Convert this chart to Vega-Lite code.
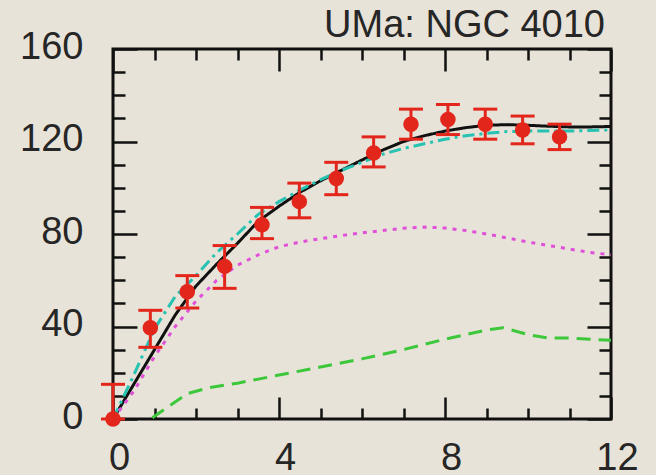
{
  "$schema": "https://vega.github.io/schema/vega-lite/v6.json",
  "width": 498,
  "height": 370,
  "autosize": {"type": "none"},
  "padding": {"left": 113, "top": 49, "right": 45, "bottom": 56},
  "background": "#e8e3d8",
  "title": {"text": "UMa: NGC 4010", "anchor": "end", "frame": "group", "offset": 4, "dx": -6, "dy": 21, "fontSize": 38, "font": "Liberation Sans", "fontWeight": "normal", "color": "#262626"},
  "config": {
    "view": {"stroke": "#111111", "strokeWidth": 3},
    "axis": {"domain": false, "grid": false, "tickColor": "#111111", "tickWidth": 2.5, "labelFont": "Liberation Sans", "labelFontSize": 38, "labelColor": "#262626", "title": null}
  },
  "datasets": {
    "models": [
      {"series": "total", "r": 0, "v": 0}, {"series": "total", "r": 0.5, "v": 15}, {"series": "total", "r": 1, "v": 30}, {"series": "total", "r": 1.5, "v": 45}, {"series": "total", "r": 2, "v": 57.5}, {"series": "total", "r": 2.5, "v": 67}, {"series": "total", "r": 3, "v": 76}, {"series": "total", "r": 3.5, "v": 85.5}, {"series": "total", "r": 4, "v": 92}, {"series": "total", "r": 4.5, "v": 98}, {"series": "total", "r": 5, "v": 103}, {"series": "total", "r": 5.5, "v": 107.5}, {"series": "total", "r": 6, "v": 112}, {"series": "total", "r": 6.5, "v": 116.3}, {"series": "total", "r": 7, "v": 120}, {"series": "total", "r": 7.5, "v": 122.5}, {"series": "total", "r": 8, "v": 124.5}, {"series": "total", "r": 8.5, "v": 126}, {"series": "total", "r": 9, "v": 127}, {"series": "total", "r": 9.5, "v": 127.3}, {"series": "total", "r": 10, "v": 127}, {"series": "total", "r": 10.5, "v": 126.6}, {"series": "total", "r": 11, "v": 126.3}, {"series": "total", "r": 11.5, "v": 126.3}, {"series": "total", "r": 12, "v": 126.5},
      {"series": "alt", "r": 0, "v": 0}, {"series": "alt", "r": 0.5, "v": 19}, {"series": "alt", "r": 1, "v": 39}, {"series": "alt", "r": 1.5, "v": 53}, {"series": "alt", "r": 2, "v": 62}, {"series": "alt", "r": 2.5, "v": 72}, {"series": "alt", "r": 3, "v": 80}, {"series": "alt", "r": 3.5, "v": 88.5}, {"series": "alt", "r": 4, "v": 94}, {"series": "alt", "r": 4.5, "v": 99}, {"series": "alt", "r": 5, "v": 103.5}, {"series": "alt", "r": 5.5, "v": 107.5}, {"series": "alt", "r": 6, "v": 111}, {"series": "alt", "r": 6.5, "v": 114.5}, {"series": "alt", "r": 7, "v": 117}, {"series": "alt", "r": 7.5, "v": 119}, {"series": "alt", "r": 8, "v": 121}, {"series": "alt", "r": 8.5, "v": 122.5}, {"series": "alt", "r": 9, "v": 123.5}, {"series": "alt", "r": 9.5, "v": 124.3}, {"series": "alt", "r": 10, "v": 124.5}, {"series": "alt", "r": 11, "v": 124.5}, {"series": "alt", "r": 12, "v": 125},
      {"series": "stars", "r": 0, "v": 0}, {"series": "stars", "r": 0.5, "v": 12}, {"series": "stars", "r": 1, "v": 27}, {"series": "stars", "r": 1.5, "v": 40}, {"series": "stars", "r": 2, "v": 51}, {"series": "stars", "r": 2.5, "v": 60}, {"series": "stars", "r": 3, "v": 66.5}, {"series": "stars", "r": 3.5, "v": 71}, {"series": "stars", "r": 4, "v": 74.5}, {"series": "stars", "r": 4.5, "v": 76.5}, {"series": "stars", "r": 5, "v": 78}, {"series": "stars", "r": 5.5, "v": 79.3}, {"series": "stars", "r": 6, "v": 80.5}, {"series": "stars", "r": 6.5, "v": 81.5}, {"series": "stars", "r": 7, "v": 82.5}, {"series": "stars", "r": 7.5, "v": 83}, {"series": "stars", "r": 8, "v": 82.6}, {"series": "stars", "r": 8.5, "v": 81.5}, {"series": "stars", "r": 9, "v": 80}, {"series": "stars", "r": 9.5, "v": 78.3}, {"series": "stars", "r": 10, "v": 76.5}, {"series": "stars", "r": 10.5, "v": 75}, {"series": "stars", "r": 11, "v": 73.5}, {"series": "stars", "r": 11.5, "v": 72}, {"series": "stars", "r": 12, "v": 71},
      {"series": "gas", "r": 0.95, "v": 0.5}, {"series": "gas", "r": 1.3, "v": 5}, {"series": "gas", "r": 1.8, "v": 11}, {"series": "gas", "r": 2.3, "v": 13.5}, {"series": "gas", "r": 3, "v": 15.5}, {"series": "gas", "r": 4, "v": 19}, {"series": "gas", "r": 5, "v": 22.5}, {"series": "gas", "r": 6, "v": 26}, {"series": "gas", "r": 7, "v": 30}, {"series": "gas", "r": 8, "v": 34.5}, {"series": "gas", "r": 9, "v": 38.5}, {"series": "gas", "r": 9.4, "v": 39.5}, {"series": "gas", "r": 10, "v": 36.5}, {"series": "gas", "r": 10.5, "v": 35}, {"series": "gas", "r": 11, "v": 35}, {"series": "gas", "r": 12, "v": 34}
    ],
    "obs": [
      {"r": 0, "v": 0, "lo": 0, "hi": 15},
      {"r": 0.9, "v": 39.5, "lo": 31, "hi": 47},
      {"r": 1.79, "v": 55, "lo": 48, "hi": 62},
      {"r": 2.69, "v": 66, "lo": 56.5, "hi": 75},
      {"r": 3.59, "v": 84, "lo": 78, "hi": 91.5},
      {"r": 4.49, "v": 94, "lo": 87, "hi": 102},
      {"r": 5.38, "v": 104, "lo": 97, "hi": 111},
      {"r": 6.28, "v": 115, "lo": 109, "hi": 122},
      {"r": 7.18, "v": 127.5, "lo": 121, "hi": 134},
      {"r": 8.07, "v": 129.5, "lo": 123, "hi": 136},
      {"r": 8.97, "v": 127.5, "lo": 121, "hi": 134},
      {"r": 9.87, "v": 125, "lo": 119, "hi": 131},
      {"r": 10.76, "v": 122, "lo": 116.5, "hi": 127.5}
    ]
  },
  "resolve": {"axis": {"x": "independent", "y": "independent"}},
  "layer": [
    {
      "data": {"name": "models"},
      "mark": {"type": "line", "strokeWidth": 3, "clip": true},
      "encoding": {
        "x": {"field": "r", "type": "quantitative", "scale": {"domain": [0, 12], "nice": false},
          "axis": {"orient": "bottom", "values": [0,1,2,3,4,5,6,7,8,9,10,11,12], "labelExpr": "datum.value % 4 === 0 ? datum.label : ''",
            "tickSize": {"condition": {"test": "datum.value % 4 === 0", "value": -22}, "value": -11}, "labelPadding": 42, "labelOffset": 6, "labelFlush": false, "labelOverlap": false}},
        "y": {"field": "v", "type": "quantitative", "scale": {"domain": [0, 160], "nice": false},
          "axis": {"orient": "left", "values": [0,10,20,30,40,50,60,70,80,90,100,110,120,130,140,150,160], "labelExpr": "datum.value % 40 === 0 ? datum.label : ''",
            "tickSize": {"condition": {"test": "datum.value % 40 === 0", "value": -24}, "value": -12}, "labelPadding": 54, "labelOffset": -2, "labelFlush": false, "labelOverlap": false}},
        "color": {"field": "series", "type": "nominal", "scale": {"domain": ["total", "alt", "stars", "gas"], "range": ["#111111", "#26c2b2", "#e050d8", "#3cc83a"]}, "legend": null},
        "strokeDash": {"field": "series", "type": "nominal", "scale": {"domain": ["total", "alt", "stars", "gas"], "range": [[1, 0], [12, 5, 3, 5], [4, 6], [14, 8]]}, "legend": null},
        "order": {"field": "r", "type": "quantitative"}
      }
    },
    {
      "data": {"name": "obs"},
      "mark": {"type": "rule", "color": "#e3261c", "strokeWidth": 3},
      "encoding": {
        "x": {"field": "r", "type": "quantitative",
          "axis": {"orient": "top", "values": [0,1,2,3,4,5,6,7,8,9,10,11,12], "labels": false,
            "tickSize": {"condition": {"test": "datum.value % 4 === 0", "value": -22}, "value": -11}}},
        "y": {"field": "lo", "type": "quantitative",
          "axis": {"orient": "right", "values": [0,10,20,30,40,50,60,70,80,90,100,110,120,130,140,150,160], "labels": false,
            "tickSize": {"condition": {"test": "datum.value % 40 === 0", "value": -24}, "value": -12}}},
        "y2": {"field": "hi"}
      }
    },
    {
      "data": {"name": "obs"},
      "mark": {"type": "tick", "orient": "horizontal", "color": "#e3261c", "opacity": 1, "size": 24, "thickness": 3},
      "encoding": {
        "x": {"field": "r", "type": "quantitative", "axis": null},
        "y": {"field": "lo", "type": "quantitative", "axis": null}
      }
    },
    {
      "data": {"name": "obs"},
      "mark": {"type": "tick", "orient": "horizontal", "color": "#e3261c", "opacity": 1, "size": 24, "thickness": 3},
      "encoding": {
        "x": {"field": "r", "type": "quantitative", "axis": null},
        "y": {"field": "hi", "type": "quantitative", "axis": null}
      }
    },
    {
      "data": {"name": "obs"},
      "mark": {"type": "circle", "color": "#e3261c", "opacity": 1, "size": 240},
      "encoding": {
        "x": {"field": "r", "type": "quantitative", "axis": null},
        "y": {"field": "v", "type": "quantitative", "axis": null}
      }
    }
  ]
}
